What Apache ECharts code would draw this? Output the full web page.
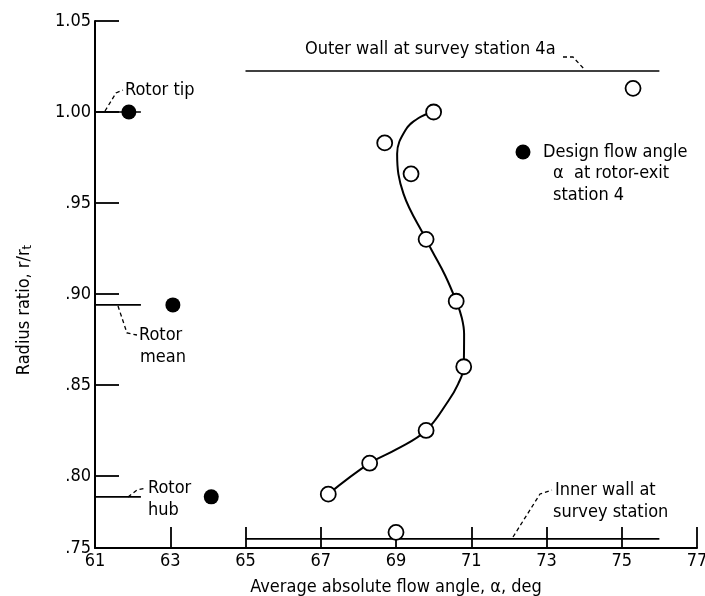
<!DOCTYPE html>
<html>
<head>
<meta charset="utf-8">
<script src="https://cdn.jsdelivr.net/npm/echarts@6/dist/echarts.min.js"></script>
<style>
  html, body { margin: 0; padding: 0; background: #fff; }
  #chart { width: 705px; height: 596px; }
</style>
</head>
<body>
<div id="chart"></div>
<script>
// Datos
const measuredAngle  = [70.0, 68.7, 69.4, 69.8, 70.6, 70.8, 69.8, 68.3, 67.2, 69.0, 75.3];
const measuredRadius = [1.000, 0.983, 0.966, 0.930, 0.896, 0.860, 0.825, 0.807, 0.790, 0.769, 1.013];

// Curva trazada a mano (faired)
const curveAngle  = [67.2, 68.3, 69.02, 69.8, 70.39, 70.65, 70.8, 70.81, 70.75, 70.6, 70.31, 69.96, 69.8, 69.2, 69.03, 69.25, 69.6, 70.0];
const curveRadius = [0.790, 0.807, 0.8147, 0.825, 0.8412, 0.8505, 0.860, 0.878, 0.8868, 0.896, 0.910, 0.9236, 0.930, 0.955, 0.977, 0.990, 0.9967, 1.000];

// Angulo de diseno a la salida del rotor (tip, mean, hub)
const designAngle  = [61.9, 63.07, 64.09];
const designRadius = [1.000, 0.894, 0.7885];

// Paredes en la estacion 4a
const wallAngle = [65, 76];
const outerWallRadius = 1.0225;
const innerWallRadius = 0.7654;
const rotorMarkEnd = 62.22;

// Ejes
const yTickValues = [0.7604, 0.80, 0.85, 0.90, 0.95, 1.00, 1.05];
const yTickText = ['.75', '.80', '.85', '.90', '.95', '1.00', '1.05'];

const FONT = '"DejaVu Sans Condensed", "Liberation Sans Narrow", "DejaVu Sans", sans-serif';

const chart = echarts.init(document.getElementById('chart'));

const series = [];

// curva
series.push({
    type: 'line',
    data: curveAngle.map((a, i) => [a, curveRadius[i]]),
    smooth: 0.4,
    symbol: 'none',
    lineStyle: { color: '#000', width: 2 },
    z: 2,
    silent: true
});

// lineas de rotor (tip, mean, hub)
designRadius.forEach(r => {
    series.push({
        type: 'line',
        data: [[61, r], [rotorMarkEnd, r]],
        symbol: 'none',
        lineStyle: { color: '#000', width: 1.6 },
        silent: true
    });
});

// paredes
[outerWallRadius, innerWallRadius].forEach(r => {
    series.push({
        type: 'line',
        data: wallAngle.map(a => [a, r]),
        symbol: 'none',
        lineStyle: { color: '#000', width: 1.6 },
        silent: true
    });
});

// puntos medidos
series.push({
    type: 'scatter',
    data: measuredAngle.map((a, i) => [a, measuredRadius[i]]),
    symbol: 'circle',
    symbolSize: 15,
    itemStyle: { color: '#fff', borderColor: '#000', borderWidth: 1.8, opacity: 1 },
    z: 5
});

// puntos de diseno
series.push({
    type: 'scatter',
    data: designAngle.map((a, i) => [a, designRadius[i]]),
    symbol: 'circle',
    symbolSize: 15,
    itemStyle: { color: '#000', opacity: 1 },
    z: 5
});

function texto(x, y, t) {
    return {
        type: 'text', x: x, y: y, z: 10,
        style: { text: t, font: '18px ' + FONT, fill: '#000', verticalAlign: 'middle' }
    };
}
function guia(points) {
    return {
        type: 'polyline', z: 10,
        shape: { points: points },
        style: { stroke: '#000', lineWidth: 1.3, lineDash: [4, 3], fill: null }
    };
}

chart.setOption({
    animation: false,
    backgroundColor: '#fff',
    grid: { left: 95, right: 8, top: 21, bottom: 48, containLabel: false, outerBoundsMode: 'none' },
    xAxis: {
        type: 'value',
        min: 61, max: 77, interval: 2,
        axisLine: { lineStyle: { color: '#000', width: 2 } },
        axisTick: { inside: true, length: 21, lineStyle: { color: '#000', width: 1.8 } },
        axisLabel: { color: '#000', fontFamily: FONT, fontSize: 18, margin: 4 },
        splitLine: { show: false },
        name: 'Average absolute flow angle, \u03b1, deg',
        nameLocation: 'middle',
        nameGap: 30,
        nameTextStyle: { color: '#000', fontFamily: FONT, fontSize: 18 }
    },
    yAxis: {
        type: 'value',
        min: 0.7604, max: 1.05,
        axisLine: { lineStyle: { color: '#000', width: 2 } },
        axisTick: {
            inside: true, length: 24,
            customValues: yTickValues.slice(1),
            lineStyle: { color: '#000', width: 1.8 }
        },
        axisLabel: {
            color: '#000', fontFamily: FONT, fontSize: 18, margin: 4,
            customValues: yTickValues,
            formatter: v => yTickText[yTickValues.findIndex(t => Math.abs(t - v) < 1e-6)]
        },
        splitLine: { show: false }
    },
    series: series,
    graphic: [
        // titulo eje y
        {
            type: 'text', x: 24, y: 310, rotation: Math.PI / 2, z: 10,
            style: {
                text: 'Radius ratio, r/r{s|t}',
                font: '18px ' + FONT, fill: '#000',
                align: 'center', verticalAlign: 'middle',
                rich: { s: { font: '13px ' + FONT, fill: '#000', padding: [7, 0, 0, 0] } }
            }
        },
        // rotor tip
        guia([[105, 111], [116, 93], [123, 90]]),
        texto(125, 90, 'Rotor tip'),
        // rotor mean
        guia([[118, 306], [127, 333], [137, 335]]),
        texto(139, 335, 'Rotor'),
        texto(140, 357, 'mean'),
        // rotor hub
        guia([[128, 497], [137, 490], [146, 488]]),
        texto(148, 488, 'Rotor'),
        texto(148, 510, 'hub'),
        // outer wall
        texto(305, 49, 'Outer wall at survey station 4a'),
        guia([[563, 57], [573, 57], [585, 70]]),
        // leyenda
        { type: 'circle', z: 10, shape: { cx: 523, cy: 152, r: 7.5 }, style: { fill: '#000' } },
        texto(543, 152, 'Design flow angle'),
        texto(553, 173, '\u03b1  at rotor-exit'),
        texto(553, 195, 'station 4'),
        // inner wall
        guia([[513, 537], [540, 494], [552, 490]]),
        texto(555, 490, 'Inner wall at'),
        texto(553, 512, 'survey station')
    ]
});
</script>
</body>
</html>
